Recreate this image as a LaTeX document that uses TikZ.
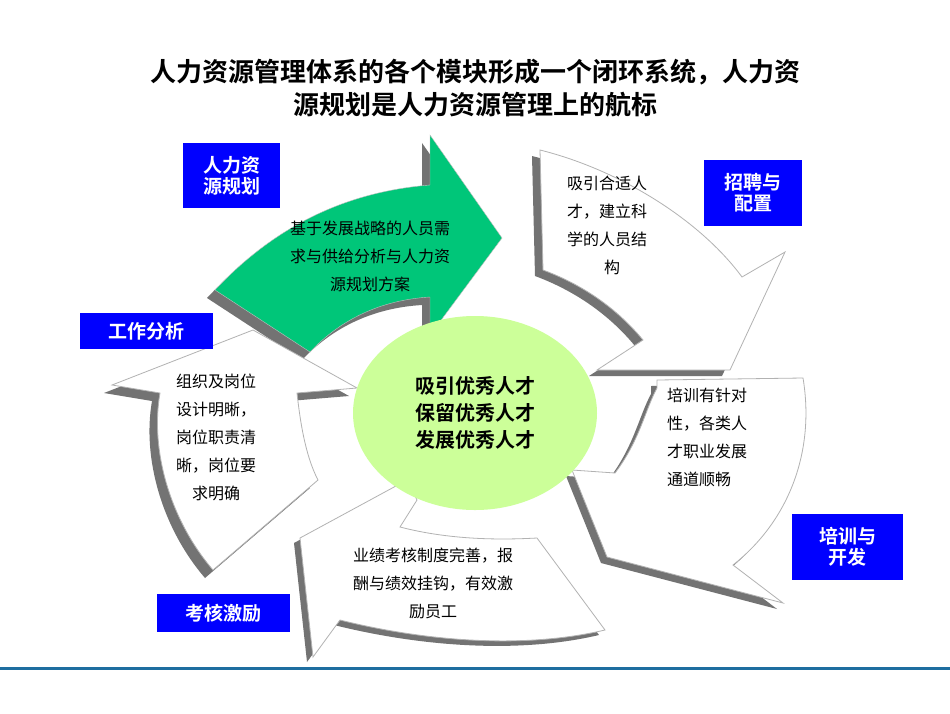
\documentclass[tikz,border=0pt]{standalone}
\usepackage{fontspec}
\usetikzlibrary{shapes.geometric}
\newfontfamily\cjk{Noto Sans CJK SC}
\newfontfamily\cjkb{Noto Sans CJK SC Bold}
\begin{document}
\begin{tikzpicture}[x=1pt,y=-1pt,
  shd/.style={fill=gray!90!black,draw=none},
  wht/.style={fill=white,draw=gray!60,line width=0.8pt},
  lab/.style={fill=blue,text=white,font=\cjkb\fontsize{19}{21}\selectfont,align=center,inner sep=0pt},
  body/.style={font=\cjk\fontsize{16}{28}\selectfont,align=left,inner sep=0pt}]
\useasboundingbox (0,0) rectangle (950,713);
\fill[white] (0,0) rectangle (950,713);
\node[font=\cjkb\fontsize{26}{33}\selectfont,align=center] (title) at (475,88) {人力资源管理体系的各个模块形成一个闭环系统，人力资\\源规划是人力资源管理上的航标};
% green arrow
\def\garrow{(215,290) .. controls (290,210) and (370,190) .. (430,185) -- (430,135) -- (502,238) -- (430,335) -- (430,297) .. controls (380,300) and (340,320) .. (310,352) -- cycle}
\begin{scope}[shift={(-8,8)}]\fill[shd] \garrow;\end{scope}
\fill[fill=teal!60!green!75!cyan,draw=gray!50] \garrow;
% top-right arrow
\def\trarrow{(540,150) .. controls (620,170) and (700,220) .. (742,277) -- (785,252) -- (730,370) -- (597,370) -- (643,340) .. controls (610,300) and (570,280) .. (543,270) -- cycle}
\begin{scope}[shift={(-8,6)}]\fill[shd] \trarrow;\end{scope}
\filldraw[wht] \trarrow;
% right arrow
\def\rarrow{(657,380) -- (803,378) .. controls (815,450) and (790,520) .. (733,565) -- (783,603) -- (607,557) -- (572,470) -- (615,473) .. controls (640,440) and (645,410) .. (657,388) -- cycle}
\begin{scope}[shift={(-6,6)}]\fill[shd] \rarrow;\end{scope}
\filldraw[wht] \rarrow;
% bottom arrow
\def\barrow{(300,538) -- (407,480) -- (417,500) -- (400,527) .. controls (450,540) and (500,540) .. (537,538) -- (605,630) .. controls (520,650) and (420,640) .. (340,620) -- (313,657) -- cycle}
\begin{scope}[shift={(-6,5)}]\fill[shd] \barrow;\end{scope}
\filldraw[wht] \barrow;
% left arrow
\def\larrow{(112,385) -- (253,330) -- (357,388) -- (297,393) .. controls (300,420) and (305,455) .. (318,480) -- (213,570) .. controls (170,520) and (150,450) .. (160,393) -- cycle}
\begin{scope}[shift={(-8,8)}]\fill[shd] \larrow;\end{scope}
\filldraw[wht] \larrow;
% center
\node[ellipse,fill={rgb,255:red,204;green,255;blue,153},minimum width=244pt,minimum height=194pt,inner sep=0pt,font=\cjkb\fontsize{20}{27}\selectfont,align=center] (core) at (475,413) {吸引优秀人才\\保留优秀人才\\发展优秀人才};
% texts
\node[body,align=center] (gtext) at (370,256) {基于发展战略的人员需\\求与供给分析与人力资\\源规划方案};
\node[body,anchor=north west] (trtext) at (567,176) {吸引合适人\\才，建立科\\学的人员结\\\hspace*{2.3em}构};
\node[body,anchor=north west] (rtext) at (667,388) {培训有针对\\性，各类人\\才职业发展\\通道顺畅};
\node[body,anchor=north west] (ltext) at (176,374) {组织及岗位\\设计明晰，\\岗位职责清\\晰，岗位要\\\hspace*{1em}求明确};
\node[body,align=center] (btext) at (433,583) {业绩考核制度完善，报\\酬与绩效挂钩，有效激\\励员工};
% labels
\node[lab,minimum width=97pt,minimum height=65pt] (l1) at (231.5,175.5) {人力资\\源规划};
\node[lab,minimum width=98pt,minimum height=66pt] (l2) at (753,193) {招聘与\\配置};
\node[lab,minimum width=133pt,minimum height=36pt] (l3) at (146.5,331) {工作分析};
\node[lab,minimum width=133pt,minimum height=38pt] (l4) at (223.5,613) {考核激励};
\node[lab,minimum width=111pt,minimum height=66pt] (l5) at (847.5,547) {培训与\\开发};
% bottom rule
\draw[line width=3pt,color={rgb,255:red,30;green,110;blue,160}] (0,668) -- (950,668);
\end{tikzpicture}
\end{document}
